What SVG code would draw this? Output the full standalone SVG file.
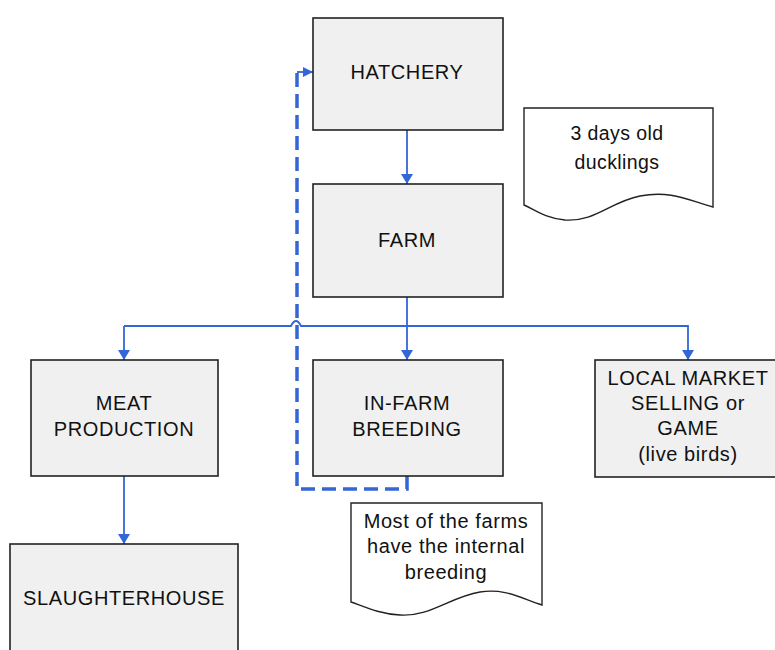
<svg xmlns="http://www.w3.org/2000/svg" width="775" height="650" viewBox="0 0 775 650">
  <defs>
    <marker id="arrow" viewBox="0 0 10 12" refX="10" refY="6" markerWidth="10" markerHeight="13" markerUnits="userSpaceOnUse" orient="auto">
      <path d="M0,0 L10,6 L0,12 Z" fill="#3366d6"/>
    </marker>
    <marker id="arrowDash" viewBox="0 0 10 10" refX="10" refY="5" markerWidth="10" markerHeight="11" markerUnits="userSpaceOnUse" orient="auto">
      <path d="M0,0 L10,5 L0,10 Z" fill="#3366d6"/>
    </marker>
  </defs>
  <style>
    .box { fill: #f0f0f0; stroke: #222; stroke-width: 1.6; }
    .doc { fill: #ffffff; stroke: #222; stroke-width: 1.4; }
    .lbl { font-family: "Liberation Sans", Arial, sans-serif; font-size: 20px; letter-spacing: 0.6px; fill: #111; text-anchor: middle; }
    .note { font-family: "Liberation Sans", Arial, sans-serif; font-size: 19.5px; letter-spacing: 0.4px; fill: #111; text-anchor: middle; }
    .flow { fill: none; stroke: #3366d6; stroke-width: 1.8; }
    .loop { fill: none; stroke: #3366d6; stroke-width: 3.5; stroke-dasharray: 14 7; }
  </style>

  <rect width="775" height="650" fill="#ffffff"/>

  <!-- connectors -->
  <g id="connectors">
    <path class="flow" d="M407,130 V184" marker-end="url(#arrow)"/>
    <path class="flow" d="M407,297 V360" marker-end="url(#arrow)"/>
    <path class="flow" d="M124,326 H291 Q296,316 301,326 H688 V360" marker-end="url(#arrow)"/>
    <path class="flow" d="M124,326 V360" marker-end="url(#arrow)"/>
    <path class="flow" d="M124,476 V544" marker-end="url(#arrow)"/>
    <path class="loop" d="M407,476 V489 H297 V72"/>
    <path class="flow" d="M297,72 H313" marker-end="url(#arrowDash)"/>
  </g>

  <g id="hatchery">
    <rect class="box" x="313" y="18" width="190" height="112"/>
    <text class="lbl" x="407" y="79">HATCHERY</text>
  </g>

  <g id="farm">
    <rect class="box" x="313" y="184" width="190" height="113"/>
    <text class="lbl" x="407" y="247">FARM</text>
  </g>

  <g id="meat-production">
    <rect class="box" x="31" y="360" width="187" height="116"/>
    <text class="lbl" x="124" y="410">MEAT</text>
    <text class="lbl" x="124" y="436">PRODUCTION</text>
  </g>

  <g id="in-farm-breeding">
    <rect class="box" x="313" y="360" width="190" height="116"/>
    <text class="lbl" x="407" y="410">IN-FARM</text>
    <text class="lbl" x="407" y="436">BREEDING</text>
  </g>

  <g id="local-market">
    <rect class="box" x="595" y="360" width="186" height="117"/>
    <text class="lbl" x="688" y="385">LOCAL MARKET</text>
    <text class="lbl" x="688" y="410">SELLING or</text>
    <text class="lbl" x="688" y="435">GAME</text>
    <text class="lbl" x="688" y="461">(live birds)</text>
  </g>

  <g id="slaughterhouse">
    <rect class="box" x="10" y="544" width="228" height="113"/>
    <text class="lbl" x="124" y="605">SLAUGHTERHOUSE</text>
  </g>

  <g id="note-ducklings">
    <path class="doc" d="M524,108 H713 V207 C688,200 670,190 640,196 C610,202 595,222 565,220 C545,218 535,210 524,205 Z"/>
    <text class="note" x="617" y="140">3 days old</text>
    <text class="note" x="617" y="169">ducklings</text>
  </g>

  <g id="note-breeding">
    <path class="doc" d="M351,503 H542 V605 C520,598 505,588 480,592 C450,597 430,617 400,615 C380,614 365,607 351,602 Z"/>
    <text class="lbl" x="446" y="528">Most of the farms</text>
    <text class="lbl" x="446" y="553">have the internal</text>
    <text class="lbl" x="446" y="579">breeding</text>
  </g>
</svg>
